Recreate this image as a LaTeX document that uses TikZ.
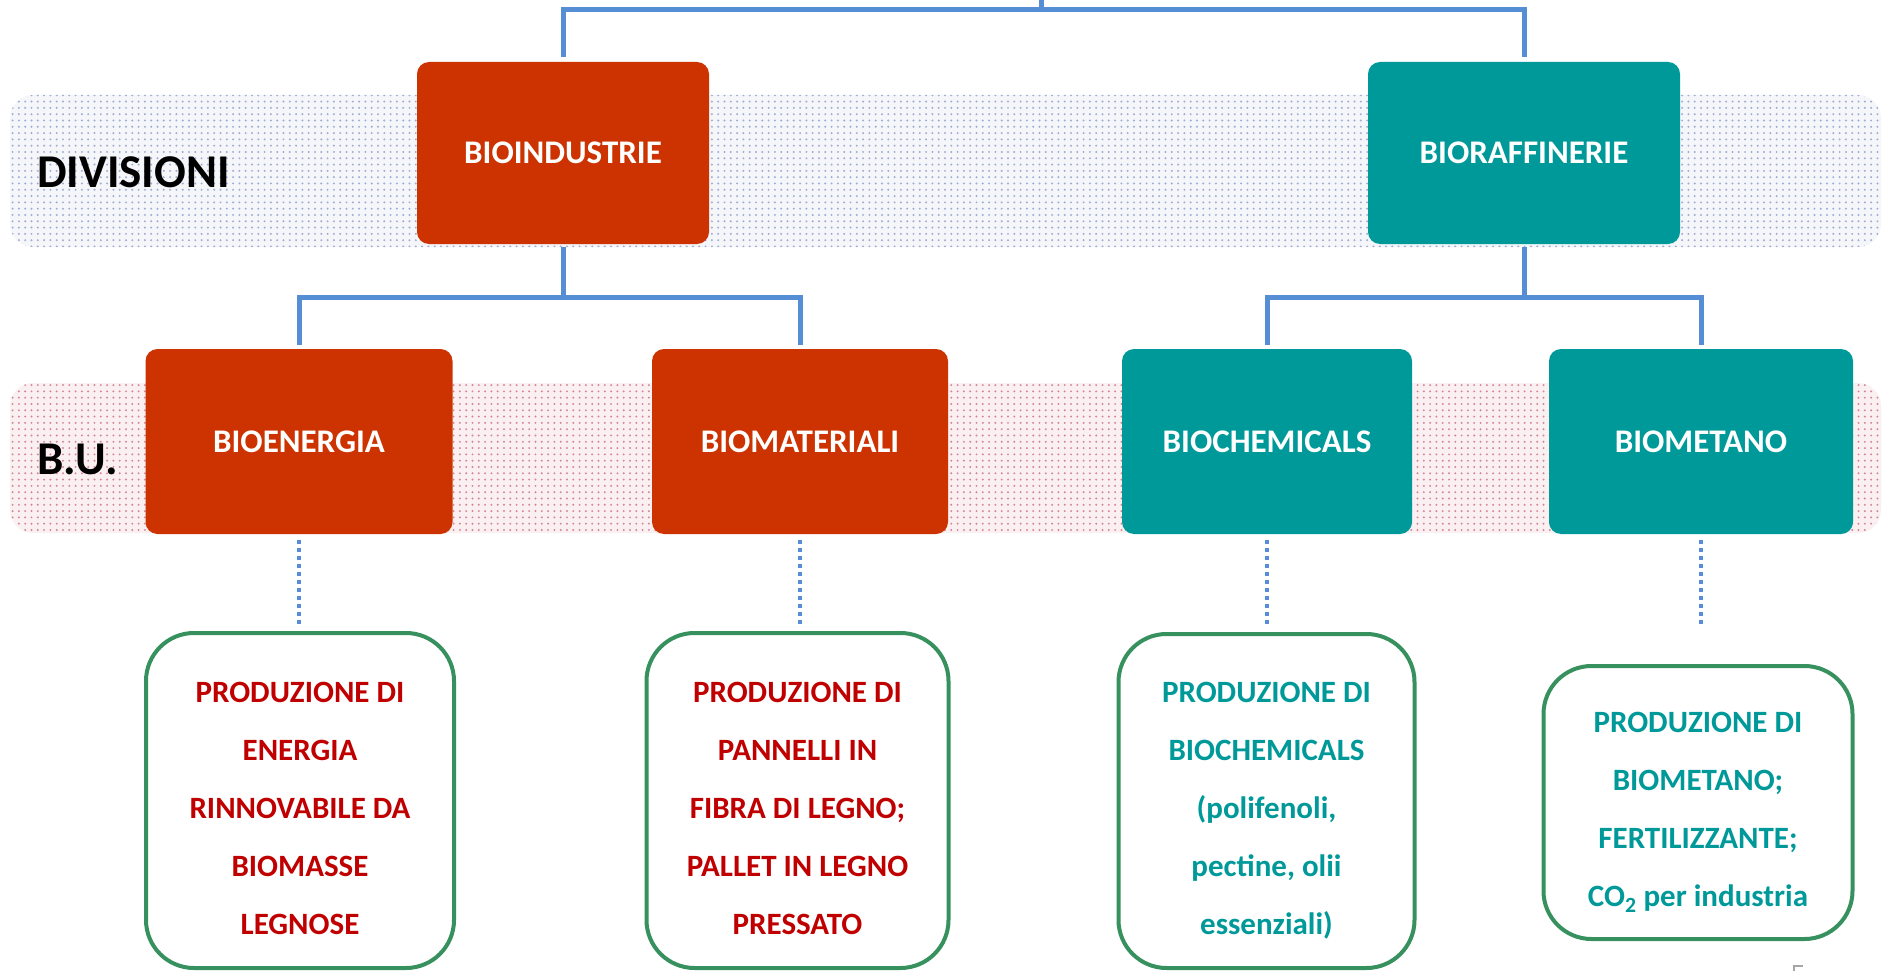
\documentclass[tikz,border=0pt]{standalone}
\usepackage{fontspec}
\setmainfont{Carlito}
\usetikzlibrary{patterns.meta}
\definecolor{orgred}{RGB}{204,51,0}
\definecolor{tealc}{RGB}{0,153,153}
\definecolor{connblue}{RGB}{85,142,213}
\definecolor{boxgreen}{RGB}{55,145,95}
\definecolor{txtred}{RGB}{192,0,0}
\definecolor{dotblue}{RGB}{160,172,208}
\definecolor{dotred}{RGB}{212,135,150}
\definecolor{tintblue}{RGB}{244,246,250}
\definecolor{tintred}{RGB}{250,240,242}
\begin{document}
\begin{tikzpicture}[x=1pt,y=-1pt,
  titlebox/.style={rectangle, rounded corners=12pt, inner sep=0pt, text=white,
    font=\fontsize{33}{40}\selectfont\bfseries},
  prodbox/.style={draw=boxgreen, line width=4pt, fill=white, rounded corners=48pt, inner sep=0pt},
  prodtext/.style={align=center, inner sep=0pt, anchor=north,
    font=\fontsize{31}{58}\selectfont\bfseries},
  rowlabel/.style={anchor=base west, inner sep=0pt, font=\fontsize{47}{50}\selectfont\bfseries},
  conn/.style={draw=connblue, line width=5pt},
  dotconn/.style={draw=connblue, line width=3.5pt, dash pattern=on 3.5pt off 4.5pt}]
\useasboundingbox (0,0) rectangle (1883,971);
% bands
\path[fill=tintblue, rounded corners=23pt] (10,95) rectangle (1881,247);
\path[pattern={Dots[distance=6.3pt, radius=1.1pt]}, pattern color=dotblue, rounded corners=23pt] (10,95) rectangle (1881,247);
\path[fill=tintred, rounded corners=23pt] (10,383) rectangle (1881,533);
\path[pattern={Dots[distance=6.3pt, radius=1.1pt]}, pattern color=dotred, rounded corners=23pt] (10,383) rectangle (1881,533);
% row labels
\node[rowlabel] (lbldiv) at (37,188) {DIVISIONI};
\node[rowlabel] (lblbu) at (37,474) {B.U.};
% divisions
\node[titlebox, fill=orgred, minimum width=292pt, minimum height=182pt] (bioind) at (563,153) {BIOINDUSTRIE};
\node[titlebox, fill=tealc, minimum width=312pt, minimum height=182pt] (biorf) at (1524,153) {BIORAFFINERIE};
% business units
\node[titlebox, fill=orgred, minimum width=307pt, minimum height=185pt] (bioen) at (299,441.5) {BIOENERGIA};
\node[titlebox, fill=orgred, minimum width=296pt, minimum height=185pt] (biomat) at (800,441.5) {BIOMATERIALI};
\node[titlebox, fill=tealc, minimum width=290pt, minimum height=185pt] (biochem) at (1267,441.5) {BIOCHEMICALS};
\node[titlebox, fill=tealc, minimum width=304pt, minimum height=185pt] (biomet) at (1701,441.5) {BIOMETANO};
% product boxes
\node[prodbox, minimum width=308pt, minimum height=335pt] (p1) at (300,800.5) {};
\node[prodbox, minimum width=302pt, minimum height=335pt] (p2) at (797.5,800.5) {};
\node[prodbox, minimum width=296pt, minimum height=334pt] (p3) at (1266.5,801) {};
\node[prodbox, minimum width=309pt, minimum height=273pt] (p4) at (1698,802.5) {};
\node[prodtext, text=txtred] (t1) at (300,682) {PRODUZIONE DI\\ENERGIA\\RINNOVABILE DA\\BIOMASSE\\LEGNOSE};
\node[prodtext, text=txtred] (t2) at (797.5,682) {PRODUZIONE DI\\PANNELLI IN\\FIBRA DI LEGNO;\\PALLET IN LEGNO\\PRESSATO};
\node[prodtext, text=tealc] (t3) at (1266.5,682) {PRODUZIONE DI\\BIOCHEMICALS\\(polifenoli,\\pectine, olii\\essenziali)};
\node[prodtext, text=tealc] (t4) at (1698,712) {PRODUZIONE DI\\BIOMETANO;\\FERTILIZZANTE;\\CO\textsubscript{2} per industria};
% top connectors
\coordinate (root) at (1041,0);
\coordinate (tbar) at (1041,10);
\draw[conn] (root) -- (tbar);
\draw[conn, shorten <=5pt, shorten >=5pt] (bioind.north) |- (tbar) -| (biorf.north);
% mid connectors
\coordinate (m1) at (563,297);
\coordinate (m2) at (1524,297);
\draw[conn, shorten <=3pt] (bioind.south) -- (m1);
\draw[conn, shorten <=3pt] (biorf.south) -- (m2);
\draw[conn, shorten <=4pt, shorten >=4pt] (bioen.north) |- (m1) -| (biomat.north);
\draw[conn, shorten <=4pt, shorten >=4pt] (biochem.north) |- (m2) -| (biomet.north);
% dotted connectors
\draw[dotconn, shorten <=6pt, shorten >=4pt] (bioen.south) -- (bioen.south |- p1.north);
\draw[dotconn, shorten <=6pt, shorten >=4pt] (biomat.south) -- (biomat.south |- p2.north);
\draw[dotconn, shorten <=6pt, shorten >=4pt] (biochem.south) -- (biochem.south |- p3.north);
\draw[dotconn, shorten <=6pt, shorten >=39pt] (biomet.south) -- (biomet.south |- p4.north);
% small fragment at lower right
\draw[gray!70, line width=1.2pt] (1794,971) -- (1794,966) -- (1803,966);
\end{tikzpicture}
\end{document}
